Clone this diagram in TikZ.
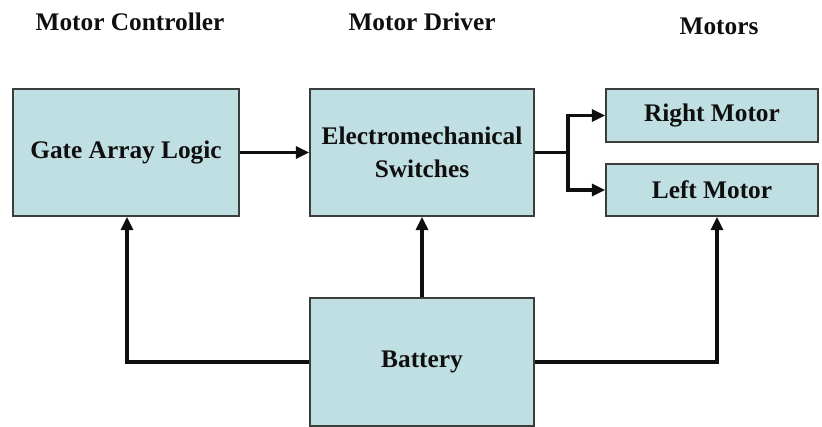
\documentclass[tikz,border=0pt]{standalone}
\usepackage{fontspec}
\setmainfont{Liberation Serif}
\usepackage{tikz}
\usetikzlibrary{arrows.meta,positioning}
\definecolor{paleblue}{RGB}{192,223,226}
\definecolor{edge}{RGB}{60,62,62}
\definecolor{ink}{RGB}{15,15,15}

\begin{document}
\begin{tikzpicture}[
    x=0.75pt, y=-0.75pt,
    blk/.style={draw=edge, fill=paleblue, line width=1.1pt, inner sep=0pt, align=center,
                font=\fontsize{19}{25}\selectfont\bfseries, text=ink},
    head/.style={font=\fontsize{19}{22}\selectfont\bfseries, text=ink},
    arr/.style={-{Triangle[length=10pt,width=9pt]}, color=ink, line width=2.4pt}
]
\useasboundingbox (0,0) rectangle (822,426);
\node[blk, minimum width=226*0.75pt, minimum height=127*0.75pt] (gal) at (126,152.5) {Gate Array Logic};
\node[blk, minimum width=224*0.75pt, minimum height=127*0.75pt] (drv) at (422,152.5) {Electromechanical\\Switches};
\node[blk, minimum width=212*0.75pt, minimum height=53*0.75pt] (rmot) at (712,115.5) {Right Motor};
\node[blk, minimum width=212*0.75pt, minimum height=52*0.75pt] (lmot) at (712,190) {Left Motor};
\node[blk, minimum width=224*0.75pt, minimum height=128*0.75pt] (bat) at (422,362) {Battery};
\node[head] (hctl) at (130,22) {Motor Controller};
\node[head] (hdrv) at (422,22) {Motor Driver};
\node[head] (hmot) at (719,26) {Motors};
\coordinate (fork) at (568,152.5);
\draw[arr] (gal) -- (drv);
\draw[line width=2.4pt, color=ink] (drv.east) -- (fork);
\draw[arr] (fork) |- (rmot.west);
\draw[arr] (fork) |- (lmot.west);
\draw[arr] (bat) -- (drv);
\draw[arr] (bat.west) -| (gal.south -| 127,0);
\draw[arr] (bat.east) -| (lmot.south -| 717,0);
\end{tikzpicture}
\end{document}
